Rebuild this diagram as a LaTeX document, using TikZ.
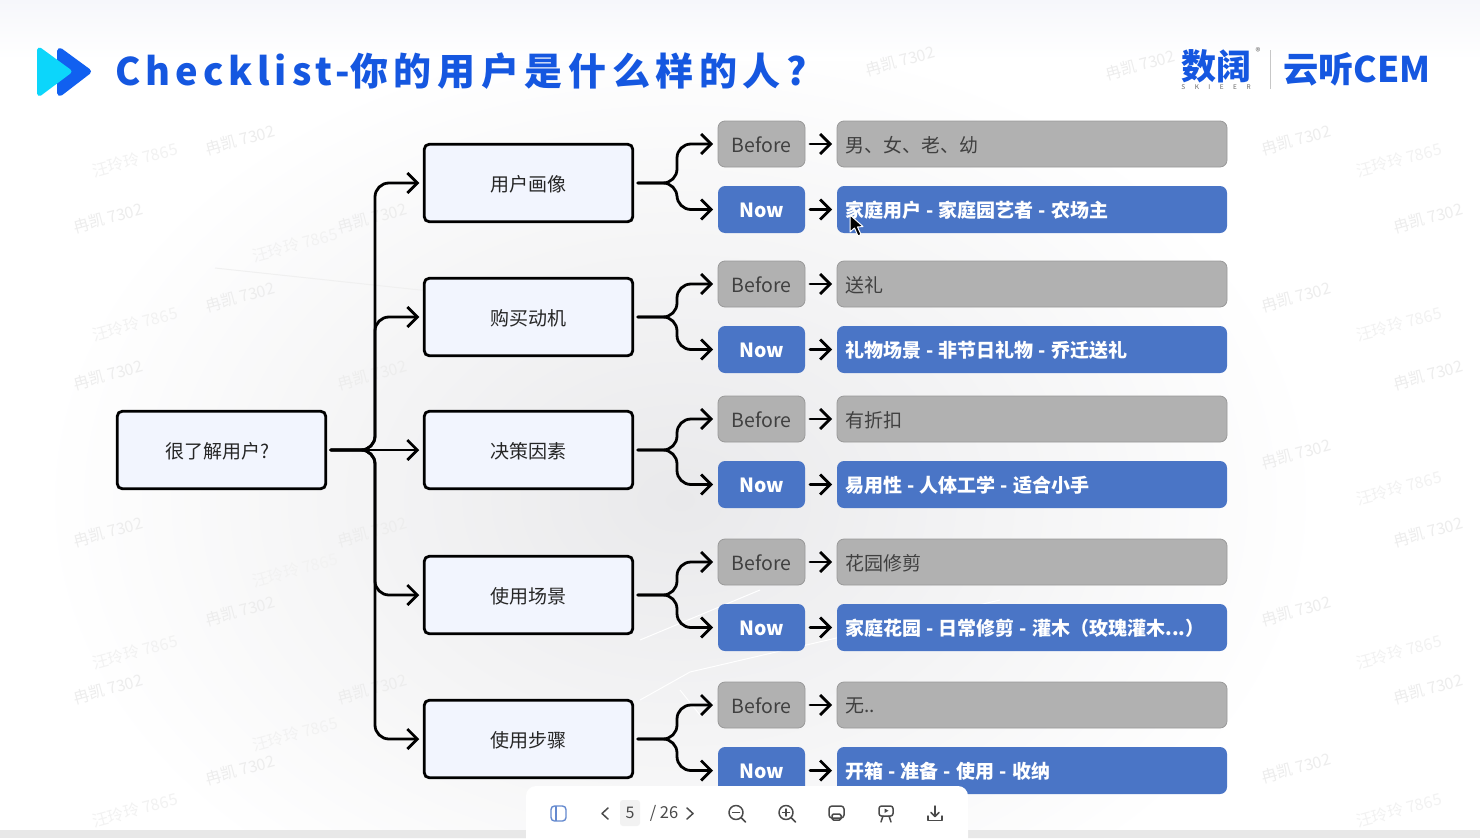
\documentclass[tikz,border=0pt]{standalone}
\usepackage{fontspec}
\usetikzlibrary{arrows.meta}
\setmainfont{Noto Sans CJK SC}
\newfontfamily\titlefont[LetterSpace=13]{Noto Sans CJK SC}
\newfontfamily\titlefontcjk[LetterSpace=14.8]{Noto Sans CJK SC}
\newfontfamily\wmfont{Noto Sans CJK SC}
\definecolor{bgmid}{HTML}{E9E9EB}
\definecolor{topbg}{HTML}{F6F7FB}
\definecolor{nodefill}{HTML}{F2F5FE}
\definecolor{greybox}{HTML}{B1B1B1}
\definecolor{greyedge}{HTML}{999999}
\definecolor{bluebox}{HTML}{4A75C6}
\definecolor{titleblue}{HTML}{1557E0}
\definecolor{logocyan}{HTML}{0CD6FB}
\definecolor{logoblue}{HTML}{1160F0}
\definecolor{icongrey}{HTML}{4A4A4A}
\newcommand\gardentext{家庭花园 - 日常修剪 - 灌木（玫瑰灌木...）}
\newcommand\nonetext{无..}
\tikzset{
  x=1pt,y=-1pt,
  lowtext/.style={text height=18pt,text depth=2pt},
  catbox/.style={draw=black,line width=2.8pt,rounded corners=5pt,fill=nodefill,minimum width=208.5pt,minimum height=77.5pt,inner sep=0pt,outer sep=0pt,text=black!85,lowtext,font=\fontsize{19}{22}\selectfont},
  tagbefore/.style={draw=greyedge,line width=.8pt,rounded corners=7pt,fill=greybox,minimum width=87pt,minimum height=46pt,inner sep=0pt,outer sep=0pt,text=black!75,lowtext,font=\fontsize{19.5}{22}\selectfont},
  tagnow/.style={rounded corners=7pt,fill=bluebox,minimum width=87pt,minimum height=47pt,inner sep=0pt,outer sep=0pt,text=white,lowtext,font=\fontsize{19.5}{22}\selectfont\bfseries},
  detailbefore/.style={draw=greyedge,line width=.8pt,rounded corners=7pt,fill=greybox,minimum width=390pt,minimum height=46pt,text width=374pt,align=left,inner xsep=8pt,inner ysep=0pt,outer sep=0pt,text=black!75,font=\fontsize{19}{22}\selectfont},
  detailnow/.style={rounded corners=7pt,fill=bluebox,minimum width=390pt,minimum height=47pt,text width=374pt,align=left,inner xsep=8pt,inner ysep=0pt,outer sep=0pt,text=white,font=\fontsize{19}{22}\selectfont\bfseries},
  flow/.style={draw=black,line width=2.8pt,rounded corners=14pt,line cap=round,-{Straight Barb[length=10pt,width=20pt,line width=2.8pt]},shorten <=5pt,shorten >=5pt},
  watermark/.style={rotate=15,text=black!7,inner sep=0pt,font=\wmfont\fontsize{16}{16}\selectfont},
  watermarkb/.style={rotate=15,text=black!5,inner sep=0pt,font=\wmfont\fontsize{16}{16}\selectfont},
  iconline/.style={draw=icongrey,line width=1.5pt,line cap=round,line join=round},
}
\begin{document}
\begin{tikzpicture}
\useasboundingbox (0,0) rectangle (1480,838);
% background
\fill[white] (0,0) rectangle (1480,838);
\begin{scope}
\clip (0,0) rectangle (1480,838);
\shade[inner color=bgmid,outer color=white] (680,500) ellipse [x radius=640,y radius=470];
\shade[top color=topbg,bottom color=topbg!0] (0,0) rectangle (1480,60);
\fill[black!9] (0,830) rectangle (1480,838);
% faint streaks
\draw[black!6,line width=1pt] (215,268) -- (420,290) -- (600,300);
\draw[white,line width=1pt] (640,700) -- (690,672) -- (1000,600);
\draw[white,line width=1pt] (640,640) -- (760,590);
\draw[white,line width=1pt] (680,690) -- (700,715) -- (716,700);
% watermarks
\foreach \wx/\wy [count=\wi] in {240/140,108/218,372/218,240/297,108/375,372/375,108/532,372/532,240/611,108/689,372/689,240/770,900/61,1140/65,1296/140,1428/218,1296/297,1428/375,1296/454,1428/532,1296/611,1428/689,1296/768}{
  \node[watermark,name=wa\wi] at (\wx,\wy) {冉凯 7302};
}
\foreach \wx/\wy [count=\wi] in {135/160,295/245,135/324,295/570,135/652,295/734,135/810,1399/160,1399/324,1399/488,1399/652,1399/810}{
  \node[watermarkb,name=wb\wi] at (\wx,\wy) {汪玲玲 7865};
}
\end{scope}
% logo
\fill[logoblue,draw=logoblue,line width=6pt,line join=round] (60,51) -- (88,71.5) -- (60,93) -- cycle;
\fill[logocyan,draw=logocyan,line width=5pt,line join=round] (39.5,50) -- (69,71.5) -- (39.5,93.5) -- cycle;
\node[anchor=west,inner sep=0pt,text=titleblue,name=title] at (115,71) {\bfseries\titlefont\fontsize{38}{40}\selectfont Checklist-\titlefontcjk\fontsize{38}{40}\selectfont 你的用户是什么样的人?};
% brand
\node[inner sep=0pt,text=titleblue,name=brandcn] at (1216,66) {\fontsize{35}{36}\selectfont\bfseries 数阔};
\node[inner sep=0pt,text=black!55,name=brandreg] at (1258,52) {\fontsize{10}{11}\selectfont ®};
\node[inner sep=0pt,text=black!60,name=branden] at (1216,87) {\fontsize{6.5}{7}\selectfont S\hspace{9.5pt}K\hspace{9.5pt}I\hspace{9.5pt}E\hspace{9.5pt}E\hspace{9.5pt}R};
\fill[black!22] (1269.5,50) rectangle (1271,89);
\node[inner sep=0pt,text=titleblue,anchor=west,name=brandcem] at (1283,69) {\fontsize{35.3}{38}\selectfont\bfseries 云听CEM};
% diagram
\node[catbox,name=root] at (221.5,450) {很了解用户?\hspace*{8pt}};
\coordinate (rootspine) at (375,450);
\foreach \n/\yc/\yb/\yd/\tb/\td in {
  1/183/144/209.5/男、女、老、幼/家庭用户 - 家庭园艺者 - 农场主,
  2/317/284/349.5/送礼/礼物场景 - 非节日礼物 - 乔迁送礼,
  3/450/419/484.5/有折扣/易用性 - 人体工学 - 适合小手,
  4/595/562/627.5/花园修剪/\gardentext,
  5/739/705/770.5/\nonetext/开箱 - 准备 - 使用 - 收纳}{
  \coordinate (s\n) at (677,\yc);
  \node[tagbefore,name=b\n] at (761.5,\yb) {Before};
  \node[tagnow,name=w\n] at (761.5,\yd) {Now};
  \node[detailbefore,name=db\n] at (1032,\yb) {\raisebox{-1pt}[\height][\depth]{\tb}};
  \node[detailnow,name=dw\n] at (1032,\yd) {\raisebox{-1pt}[\height][\depth]{\spaceskip=5.2pt\relax\td}};
  \draw[flow] (b\n.east) -- (db\n.west);
  \draw[flow] (w\n.east) -- (dw\n.west);
}
\node[catbox,name=c1] at (528.5,183) {用户画像};
\node[catbox,name=c2] at (528.5,317) {购买动机};
\node[catbox,name=c3] at (528.5,450) {决策因素};
\node[catbox,name=c4] at (528.5,595) {使用场景};
\node[catbox,name=c5] at (528.5,739) {使用步骤};
\foreach \n in {1,2,3,4,5}{
  \draw[flow] (c\n.east) -- (s\n) -- (s\n |- b\n.west) -- (b\n.west);
  \draw[flow] (c\n.east) -- (s\n) -- (s\n |- w\n.west) -- (w\n.west);
}
\draw[flow] (root.east) -- (rootspine) -- (rootspine |- c1.west) -- (c1.west);
\draw[flow] (root.east) -- (rootspine) -- (rootspine |- c2.west) -- (c2.west);
\draw[flow] (root.east) -- (c3.west);
\draw[flow] (root.east) -- (rootspine) -- (rootspine |- c4.west) -- (c4.west);
\draw[flow] (root.east) -- (rootspine) -- (rootspine |- c5.west) -- (c5.west);
% cursor
\draw[white,line width=1pt,fill=black,line join=round] (850,215) -- (850,232) -- (854.5,228) -- (858,236) -- (861,234.5) -- (857.5,227) -- (863,226.5) -- cycle;
% toolbar
\fill[white,rounded corners=10pt] (526,786) rectangle (968,860);
\draw[line width=1.4pt,draw=bluebox!85,rounded corners=3.5pt] (551,806) rectangle (566,821);
\draw[line width=1.4pt,draw=bluebox!85] (556,806) -- (556,821);
\draw[iconline] (608,808) -- (602,813.5) -- (608,819);
\fill[black!5,rounded corners=3pt] (620,800) rectangle (640,826);
\node[inner sep=0pt,text=icongrey,name=pageno] at (630,813) {\fontsize{16}{17}\selectfont 5};
\node[inner sep=0pt,text=icongrey,name=pagetotal] at (664,813) {\fontsize{16.5}{17}\selectfont / 26};
\draw[iconline] (687,808) -- (693,813.5) -- (687,819);
\draw[iconline] (736,812.5) circle (7);
\draw[iconline] (741.5,818) -- (745.5,822);
\draw[iconline] (732.5,812.5) -- (739.5,812.5);
\draw[iconline] (786,812.5) circle (7);
\draw[iconline] (791.5,818) -- (795.5,822);
\draw[iconline] (782.5,812.5) -- (789.5,812.5);
\draw[iconline] (786,809) -- (786,816);
\draw[iconline,rounded corners=3pt] (829,818) rectangle (844,806);
\draw[iconline,rounded corners=1.5pt] (832,820) rectangle (841,814);
\draw[iconline,rounded corners=2.5pt] (879,806) rectangle (893,816);
\draw[iconline] (883,816) -- (881,822) (889,816) -- (891,822);
\fill[icongrey] (884.5,808.5) -- (884.5,813) -- (888.5,810.7) -- cycle;
\draw[iconline] (935,806) -- (935,816);
\draw[iconline] (931,812.5) -- (935,816.5) -- (939,812.5);
\draw[iconline] (928,816) -- (928,820.5) -- (942,820.5) -- (942,816);
\end{tikzpicture}
\end{document}
